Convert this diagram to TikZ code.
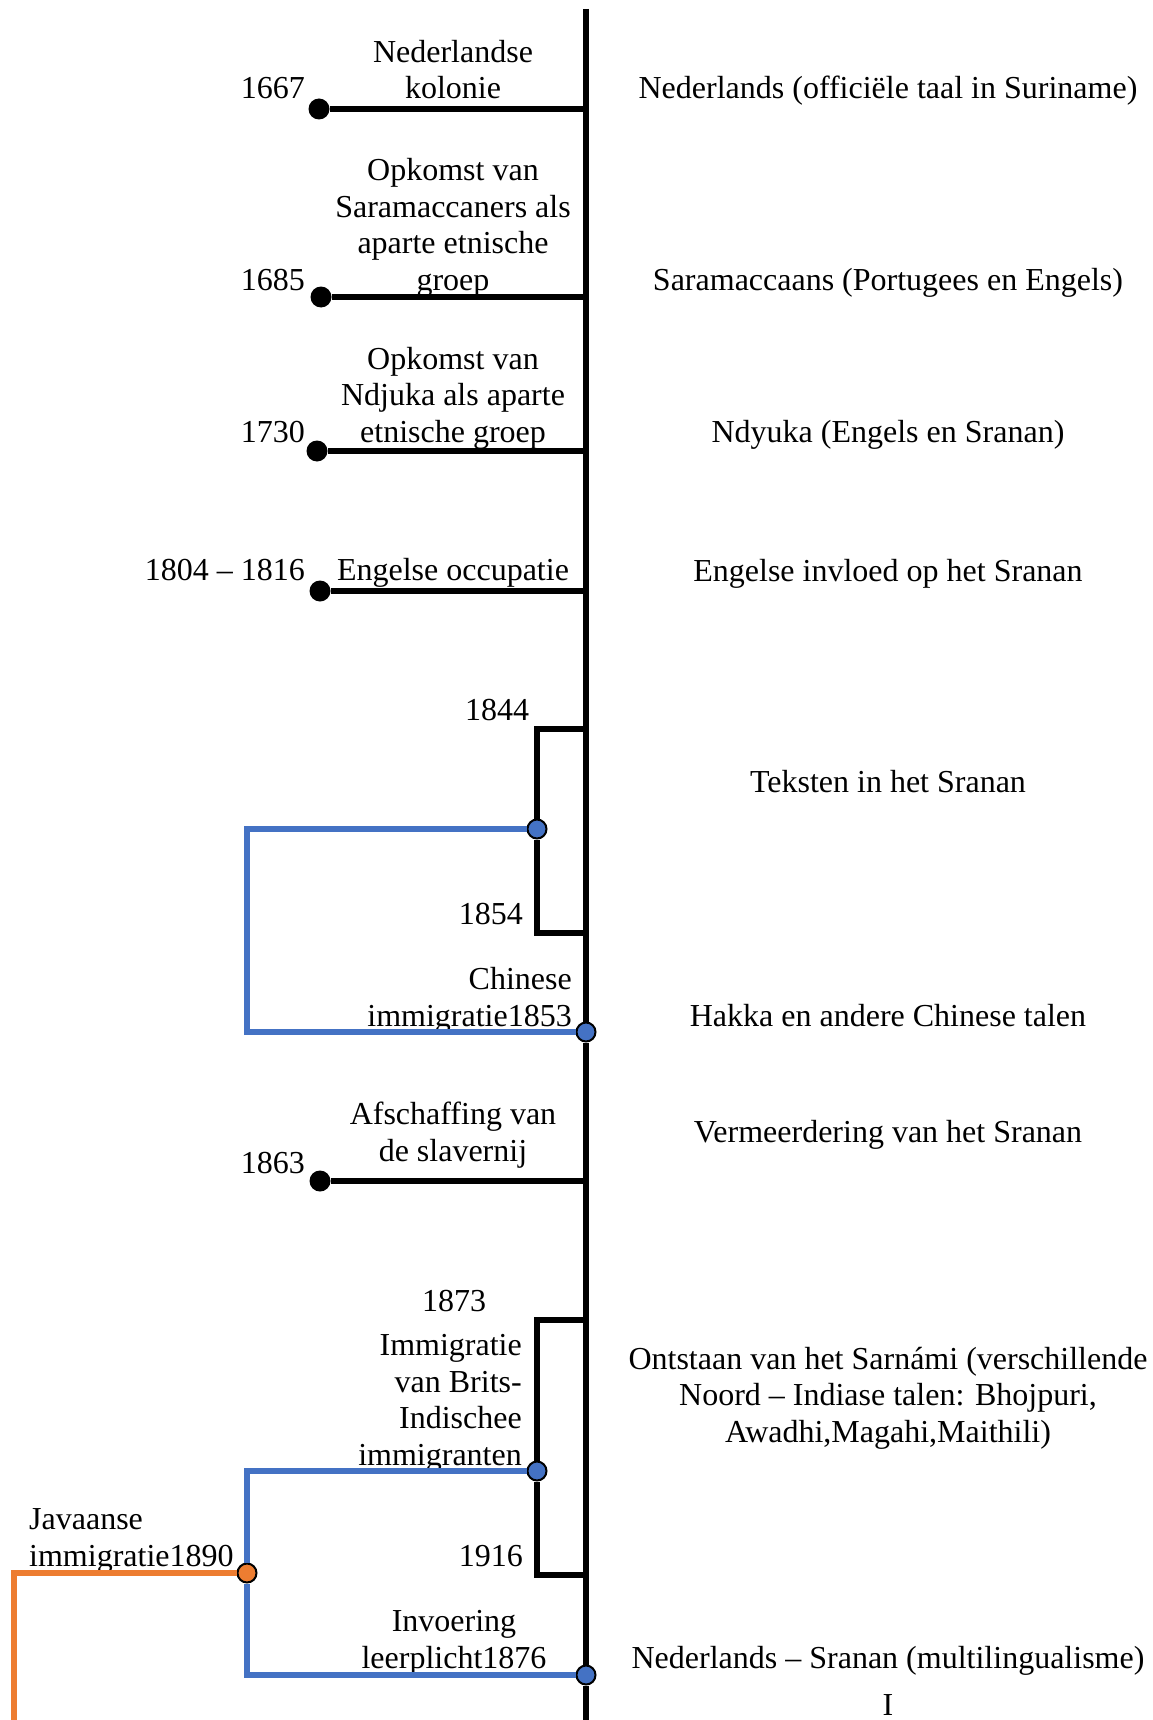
\documentclass[tikz,border=0pt]{standalone}
\usepackage{xcolor}
\usepackage{fontspec}
\setmainfont{Liberation Serif}
\definecolor{lnblue}{HTML}{4472C4}
\definecolor{lnorange}{HTML}{ED7D31}
% stacked lines whose baseline is the baseline of the last line
\newcommand\stk[2]{\begin{tabular}[b]{@{}#1@{}}#2\end{tabular}}
\begin{document}
\begin{tikzpicture}[x=1pt,y=-1pt,
  txt/.style={inner sep=0pt, yshift=-3pt, font=\fontsize{32}{36.5}\selectfont},
  axisline/.style={line width=6.5pt, black},
  branch/.style={line width=6pt, black, line join=miter},
  bline/.style={line width=5.5pt, lnblue, line join=miter},
  oline/.style={line width=5.5pt, lnorange, line join=miter},
  bdot/.style={circle, fill=black, inner sep=0pt, minimum size=21pt},
  cdot/.style={circle, draw=black, line width=2pt, inner sep=0pt, minimum size=19pt},
]
\useasboundingbox (0,0) rectangle (1152,1720);

% ---- main time axis
\coordinate (top) at (586,9);
\coordinate (bot) at (586,1720);

% ---- 1667
\node[bdot] (d1667) at (319,109) {};
\coordinate (a1667) at (586,109);
\node[txt, anchor=base east] (y1667) at (305,96) {1667};
\node[txt, anchor=base] (e1667) at (453,96) {\stk{c}{Nederlandse\\kolonie}};
\node[txt, anchor=base] (r1667) at (888,96) {Nederlands (officiële taal in Suriname)};

% ---- 1685
\node[bdot] (d1685) at (321,297) {};
\coordinate (a1685) at (586,297);
\node[txt, anchor=base east] (y1685) at (305,287) {1685};
\node[txt, anchor=base] (e1685) at (453,287) {\stk{c}{Opkomst van\\Saramaccaners als\\aparte etnische\\groep}};
\node[txt, anchor=base] (r1685) at (888,287) {Saramaccaans (Portugees en Engels)};

% ---- 1730
\node[bdot] (d1730) at (317,451) {};
\coordinate (a1730) at (586,451);
\node[txt, anchor=base east] (y1730) at (305,439) {1730};
\node[txt, anchor=base] (e1730) at (453,439) {\stk{c}{Opkomst van\\Ndjuka als aparte\\etnische groep}};
\node[txt, anchor=base] (r1730) at (888,439) {Ndyuka (Engels en Sranan)};

% ---- 1804-1816
\node[bdot] (d1804) at (320,591) {};
\coordinate (a1804) at (586,591);
\node[txt, anchor=base east] (y1804) at (305,577) {1804 – 1816};
\node[txt, anchor=base] (e1804) at (453,577) {Engelse occupatie};
\node[txt, anchor=base] (r1804) at (888,578) {Engelse invloed op het Sranan};

% ---- 1844-1854 bracket
\coordinate (a1844) at (586,729);
\coordinate (k1t) at (537,729);
\coordinate (k1b) at (537,933);
\coordinate (a1854) at (586,933);
\node[cdot, fill=lnblue] (bd1) at (537,829) {};
\node[txt, anchor=base] (y1844) at (497,717) {1844};
\node[txt, anchor=base east] (y1854) at (523,921) {1854};
\node[txt, anchor=base] (r1844) at (888,789) {Teksten in het Sranan};

% ---- 1853 Chinese immigration
\coordinate (l1) at (247,1032);
\node[cdot, fill=lnblue] (cd1) at (586,1032) {};
\node[txt, anchor=base east] (e1853) at (572,1023) {\stk{r}{Chinese\\immigratie1853}};
\node[txt, anchor=base] (r1853) at (888,1023) {Hakka en andere Chinese talen};

% ---- 1863
\node[bdot] (d1863) at (320,1181) {};
\coordinate (a1863) at (586,1181);
\node[txt, anchor=base east] (y1863) at (305,1170) {1863};
\node[txt, anchor=base] (e1863) at (453,1158) {\stk{c}{Afschaffing van\\de slavernij}};
\node[txt, anchor=base] (r1863) at (888,1139) {Vermeerdering van het Sranan};

% ---- 1873-1916 bracket
\coordinate (a1873) at (586,1320);
\coordinate (k2t) at (537,1320);
\coordinate (k2b) at (537,1575);
\coordinate (a1916) at (586,1575);
\node[cdot, fill=lnblue] (bd2) at (537,1471) {};
\node[txt, anchor=base] (y1873) at (454,1308) {1873};
\node[txt, anchor=base east] (e1873) at (522,1462) {\stk{r}{Immigratie\\van Brits-\\Indischee\\immigranten}};
\node[txt, anchor=base east] (y1916) at (523,1563) {1916};
\node[txt, anchor=base] (r1873) at (888,1439) {\stk{c}{Ontstaan van het Sarnámi (verschillende\\Noord – Indiase talen: Bhojpuri,\\Awadhi,Magahi,Maithili)}};

% ---- 1890 Javanese immigration and 1876 compulsory schooling
\node[cdot, fill=lnorange] (od) at (247,1573) {};
\coordinate (o1) at (14,1573);
\coordinate (o2) at (14,1720);
\node[cdot, fill=lnblue] (cd2) at (586,1675) {};
\node[txt, anchor=base west] (e1890) at (29,1563) {\stk{l}{Javaanse\\immigratie1890}};
\node[txt, anchor=base] (e1876) at (454,1665) {\stk{c}{Invoering\\leerplicht1876}};
\node[txt, anchor=base] (r1876) at (888,1665) {Nederlands – Sranan (multilingualisme)};
\node[txt, anchor=base] (r1876b) at (888,1712) {I};

% ---- connectors
\draw[axisline] (top) -- (cd1);
\draw[axisline] (cd1) -- (cd2);
\draw[axisline] (cd2) -- (bot);

\draw[branch] (d1667) -- (a1667);
\draw[branch] (d1685) -- (a1685);
\draw[branch] (d1730) -- (a1730);
\draw[branch] (d1804) -- (a1804);
\draw[branch] (d1863) -- (a1863);

\draw[branch] (a1844) -- (k1t) -- (bd1);
\draw[branch] (bd1) -- (k1b) -- (a1854);
\draw[branch] (a1873) -- (k2t) -- (bd2);
\draw[branch] (bd2) -- (k2b) -- (a1916);

\draw[bline] (bd1) -| (l1) -- (cd1);
\draw[bline] (bd2) -| (od);
\draw[bline] (od) |- (cd2);
\draw[oline] (od) -- (o1) -- (o2);
\end{tikzpicture}
\end{document}
